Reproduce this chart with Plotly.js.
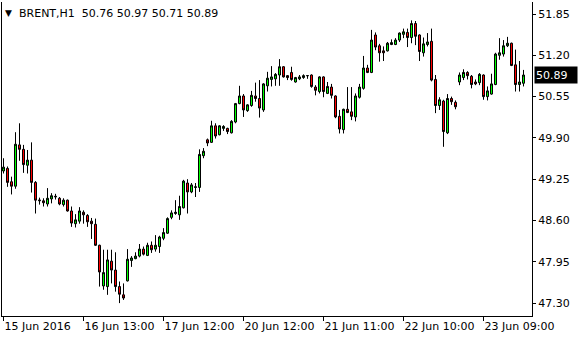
<!DOCTYPE html>
<html>
<head>
<meta charset="utf-8">
<script src="https://cdn.plot.ly/plotly-3.0.1.min.js"></script>
<style>html,body{margin:0;padding:0;background:#fff;}#chart{width:580px;height:340px;}</style>
</head>
<body>
<div id="chart"></div>
<script>
const symbolName = 'BRENT,H1';
const openP = [49.38,49.42,49.21,49.14,49.79,49.72,49.47,49.55,49.20,48.91,
48.91,48.86,48.94,48.97,48.95,48.85,48.92,48.75,48.55,48.59,
48.73,48.68,48.59,48.54,48.21,47.57,47.56,47.96,47.82,47.56,
47.43,47.65,47.97,48.00,48.04,48.15,48.05,48.21,48.15,48.19,
48.32,48.40,48.65,48.71,48.69,48.80,49.19,49.05,49.12,49.12,
49.62,49.87,49.83,50.09,49.95,50.05,50.05,49.98,50.15,50.44,
50.56,50.33,50.41,50.56,50.52,50.34,50.72,50.82,50.83,50.89,
51.02,50.88,50.93,50.78,50.83,50.85,50.88,50.89,50.70,50.63,
50.86,50.60,50.70,50.56,50.24,50.03,50.35,50.31,50.23,50.54,
50.68,51.00,50.93,51.52,51.35,51.27,51.27,51.37,51.37,51.44,
51.53,51.56,51.48,51.70,51.52,51.24,51.37,51.42,50.82,50.41,
50.48,49.98,50.52,50.46,50.78,50.85,50.93,50.87,50.78,50.77,
50.89,50.55,50.59,50.74,51.20,51.22,51.35,51.39,51.05,50.74,
50.76];
const highP = [49.58,49.45,49.29,49.99,50.13,49.79,49.71,49.83,49.22,48.96,
48.95,49.11,49.03,49.02,48.97,48.95,48.93,48.82,48.70,48.81,
48.76,48.70,48.64,48.63,48.22,48.14,48.14,48.14,48.10,47.64,
47.61,48.15,48.04,48.10,48.23,48.19,48.25,48.27,48.37,48.36,
48.48,48.65,48.76,48.92,48.99,49.24,49.25,49.19,49.19,49.72,
49.74,49.89,50.17,50.13,50.10,50.10,50.06,50.18,50.45,50.72,
50.59,50.43,50.64,50.77,50.81,50.76,50.94,51.03,50.92,51.14,
51.03,50.89,51.02,50.86,50.89,50.90,50.89,50.90,50.73,50.87,
50.87,50.78,50.75,50.57,50.34,50.36,50.70,50.70,50.60,50.75,
51.19,51.05,51.60,51.56,51.38,51.34,51.41,51.45,51.47,51.56,
51.62,51.62,51.75,51.74,51.53,51.48,51.55,51.62,50.89,50.54,
50.50,50.59,50.55,50.49,50.93,50.98,50.95,50.89,50.82,50.92,
50.90,50.71,50.91,51.24,51.47,51.44,51.49,51.40,51.29,51.11,
50.97];
const lowP = [49.34,49.13,49.01,49.10,49.54,49.35,49.34,49.04,48.71,48.85,
48.82,48.82,48.87,48.93,48.84,48.82,48.74,48.50,48.49,48.55,
48.55,48.50,48.31,48.20,47.56,47.51,47.43,47.61,47.48,47.30,
47.35,47.64,47.87,47.99,48.02,48.05,48.04,48.09,48.11,48.09,
48.29,48.39,48.62,48.69,48.61,48.79,48.71,49.03,48.97,49.05,
49.58,49.77,49.82,49.89,49.94,50.01,49.96,49.97,50.13,50.43,
50.23,50.31,50.39,50.47,50.22,50.31,50.63,50.71,50.72,50.72,
50.85,50.81,50.80,50.77,50.81,50.83,50.83,50.69,50.57,50.60,
50.54,50.59,50.52,50.21,49.97,49.97,50.29,50.18,50.16,50.52,
50.66,50.92,50.92,51.28,51.10,51.11,51.26,51.36,51.36,51.41,
51.47,51.33,51.39,51.36,51.11,51.18,51.34,50.79,50.29,50.34,
49.76,49.96,50.42,50.35,50.73,50.81,50.82,50.68,50.73,50.73,
50.50,50.49,50.58,50.73,51.13,51.18,51.33,51.03,50.63,50.63,
50.71];
const closeP = [49.44,49.20,49.14,49.80,49.72,49.48,49.55,49.20,48.92,48.92,
48.88,48.95,48.99,48.98,48.86,48.92,48.75,48.56,48.61,48.75,
48.69,48.58,48.55,48.21,47.79,47.78,47.98,47.82,47.56,47.44,
47.38,47.99,48.01,48.04,48.15,48.07,48.21,48.14,48.21,48.34,
48.41,48.63,48.72,48.73,48.82,49.22,49.05,49.16,49.13,49.64,
49.69,49.82,50.09,49.93,50.09,50.08,50.00,50.16,50.44,50.56,
50.34,50.42,50.57,50.52,50.37,50.75,50.84,50.86,50.90,51.02,
50.86,50.85,50.82,50.85,50.86,50.88,50.88,50.71,50.65,50.86,
50.63,50.71,50.57,50.23,50.04,50.35,50.30,50.24,50.56,50.70,
51.00,50.93,51.44,51.33,51.24,51.24,51.39,51.40,51.44,51.55,
51.57,51.48,51.70,51.50,51.26,51.38,51.41,50.81,50.41,50.50,
50.00,50.52,50.47,50.39,50.89,50.93,50.88,50.74,50.75,50.90,
50.55,50.64,50.75,51.22,51.24,51.35,51.39,51.04,50.74,50.78,
50.89];
const timeTickBars = [0,20,40,60,80,100,120];
const timeTickLabels = ['15 Jun 2016','16 Jun 13:00','17 Jun 12:00','20 Jun 12:00','21 Jun 11:00','22 Jun 10:00','23 Jun 09:00'];
const priceTicks = [47.30,47.95,48.60,49.25,49.90,50.55,51.20,51.85];

const barIndex = openP.map((_, i) => i);
const last = openP.length - 1;
const fmt = v => v.toFixed(2);
const font = {family: 'DejaVu Sans, Verdana, sans-serif', size: 11, color: '#000'};

const trace = {
  type: 'candlestick',
  x: barIndex, open: openP, high: highP, low: lowP, close: closeP,
  increasing: {line: {color: '#000', width: 1}, fillcolor: '#00ff00'},
  decreasing: {line: {color: '#000', width: 1}, fillcolor: '#ff0000'},
  whiskerwidth: 0,
  hoverinfo: 'skip',
  showlegend: false
};

const layout = {
  width: 580, height: 340,
  margin: {l: 2, r: 48, t: 2, b: 24, pad: 0},
  paper_bgcolor: '#fff', plot_bgcolor: '#fff',
  font: font,
  boxgap: 0.5, boxgroupgap: 0,
  showlegend: false,
  xaxis: {
    range: [-0.375, last + 2.125],
    rangeslider: {visible: false},
    showgrid: false, zeroline: false,
    showline: true, linecolor: '#000', linewidth: 1,
    ticks: 'outside', ticklen: 4, tickcolor: '#000', tickwidth: 1,
    tickvals: timeTickBars, ticktext: timeTickLabels,
    ticklabelposition: 'outside right',
    tickfont: font, fixedrange: true
  },
  yaxis: {
    side: 'right',
    range: [47.097, 52.039],
    showgrid: false, zeroline: false,
    showline: true, mirror: true, linecolor: '#000', linewidth: 1,
    ticks: 'outside', ticklen: 3, tickcolor: '#000', tickwidth: 1,
    tickvals: priceTicks, ticktext: priceTicks.map(fmt),
    tickfont: font, fixedrange: true
  },
  annotations: [
    {xref: 'paper', yref: 'paper', x: 0, y: 1, xanchor: 'left', yanchor: 'middle',
     xshift: 1, yshift: -11, text: '\u25BC', showarrow: false,
     font: {family: 'DejaVu Sans, sans-serif', size: 9, color: '#000'}},
    {xref: 'paper', yref: 'paper', x: 0, y: 1, xanchor: 'left', yanchor: 'middle',
     xshift: 15, yshift: -11, showarrow: false, font: font,
     text: symbolName + '\u00a0\u00a0' + [openP[last], highP[last], lowP[last], closeP[last]].map(fmt).join(' ')},
    {xref: 'paper', yref: 'y', x: 1, y: closeP[last], xanchor: 'left', yanchor: 'middle',
     xshift: 2, showarrow: false, text: fmt(closeP[last]), bgcolor: '#000',
     font: {family: 'DejaVu Sans, sans-serif', size: 11, color: '#fff'},
     width: 40, height: 14, align: 'left', borderpad: 1}
  ]
};

Plotly.newPlot('chart', [trace], layout, {staticPlot: true, displayModeBar: false});
</script>
</body>
</html>
